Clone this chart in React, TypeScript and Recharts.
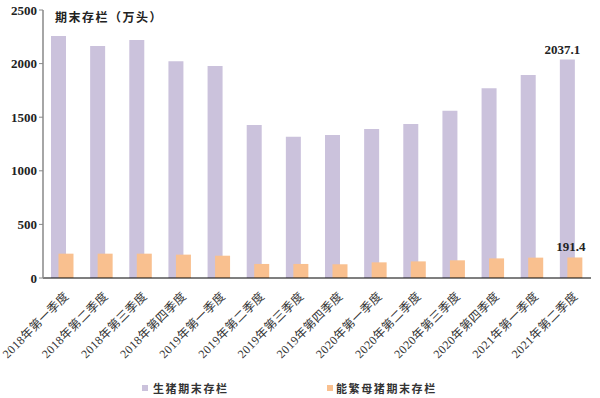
import React from "react";
import { BarChart, Bar, XAxis, YAxis, Legend, LabelList } from "recharts";

const categories = [
  "2018年第一季度", "2018年第二季度", "2018年第三季度", "2018年第四季度",
  "2019年第一季度", "2019年第二季度", "2019年第三季度", "2019年第四季度",
  "2020年第一季度", "2020年第二季度", "2020年第三季度", "2020年第四季度",
  "2021年第一季度", "2021年第二季度",
];
const hogStock = [2257, 2164, 2220, 2021, 1978, 1427, 1318, 1334, 1390, 1437, 1561, 1769, 1894, 2037.1];
const sowStock = [227, 227, 227, 218, 208, 131, 131, 128, 146, 155, 165, 183, 190, 191.4];
const yTicks = [0, 500, 1000, 1500, 2000, 2500];
const seriesNames = ["生猪期末存栏", "能繁母猪期末存栏"];
const title = "期末存栏（万头）";

const data = categories.map((c, i) => ({ name: c, hog: hogStock[i], sow: sowStock[i] }));

const PURPLE = "#CBC2DC";
const ORANGE = "#F9C08F";
const SERIF = "'Liberation Serif', 'Noto Sans CJK SC', serif";
const CJK = "'Noto Sans CJK SC', 'Liberation Serif', serif";

const XTick = (props: any) => {
  const { x, y, payload } = props;
  return (
    <g transform={`translate(${x + 4},${y + 8})`}>
      <text
        transform="rotate(-45)"
        textAnchor="end"
        dy="0.35em"
        fontSize={12}
        fill="#333"
        fontFamily={SERIF}
        letterSpacing={0.4}
      >
        {payload.value}
      </text>
    </g>
  );
};

const lastLabel = (props: any) => {
  const { x, y, width, value, index } = props;
  if (index !== categories.length - 1) return null;
  return (
    <text
      x={x + width / 2 - 5}
      y={y - 6}
      textAnchor="middle"
      fontSize={13}
      fontWeight="bold"
      fill="#222"
      fontFamily={SERIF}
    >
      {value}
    </text>
  );
};

const lastLabelSow = (props: any) => {
  const { x, y, width, value, index } = props;
  if (index !== categories.length - 1) return null;
  return (
    <text
      x={x + width / 2 - 4}
      y={y - 6}
      textAnchor="middle"
      fontSize={13}
      fontWeight="bold"
      fill="#222"
      fontFamily={SERIF}
    >
      {value}
    </text>
  );
};

const LegendContent = () => (
  <div style={{ position: "relative", width: 600, height: 24 }}>
    <div style={{ position: "absolute", left: 142, top: 6, display: "flex", alignItems: "center" }}>
      <span style={{ width: 6, height: 6, background: PURPLE, display: "inline-block", marginRight: 5 }} />
      <span style={{ fontFamily: CJK, fontSize: 11, fontWeight: "bold", color: "#333", letterSpacing: 1.6 }}>
        {seriesNames[0]}
      </span>
    </div>
    <div style={{ position: "absolute", left: 327, top: 6, display: "flex", alignItems: "center" }}>
      <span style={{ width: 6, height: 6, background: ORANGE, display: "inline-block", marginRight: 3 }} />
      <span style={{ fontFamily: CJK, fontSize: 11, fontWeight: "bold", color: "#333", letterSpacing: 1.6 }}>
        {seriesNames[1]}
      </span>
    </div>
  </div>
);

export default function App() {
  return (
    <div style={{ position: "absolute", left: 0, top: 0, background: "#fff" }}>
      <BarChart
        width={600}
        height={398}
        data={data}
        margin={{ top: 10, right: 9, left: 0, bottom: 0 }}
        barSize={15}
        barGap={-7.5}
      >
        <XAxis
          dataKey="name"
          interval={0}
          height={96}
          tickLine={false}
          axisLine={{ stroke: "#000", strokeWidth: 1.2 }}
          tick={<XTick />}
        />
        <YAxis
          width={43}
          domain={[0, 2500]}
          ticks={yTicks}
          interval={0}
          axisLine={{ stroke: "#888", strokeWidth: 1.5 }}
          tickLine={{ stroke: "#888" }}
          tickSize={4}
          tick={{ fontSize: 13, fontWeight: "bold", fill: "#222", fontFamily: SERIF }}
        />
        <Legend
          verticalAlign="bottom"
          height={24}
          content={<LegendContent />}
        />
        <Bar dataKey="hog" name={seriesNames[0]} fill={PURPLE} isAnimationActive={false}>
          <LabelList dataKey="hog" content={lastLabel} />
        </Bar>
        <Bar dataKey="sow" name={seriesNames[1]} fill={ORANGE} isAnimationActive={false}>
          <LabelList dataKey="sow" content={lastLabelSow} />
        </Bar>
        <text x={55} y={22} fontSize={12} fontWeight="bold" fill="#222" fontFamily={CJK} letterSpacing={1.5}>
          {title}
        </text>
      </BarChart>
    </div>
  );
}
